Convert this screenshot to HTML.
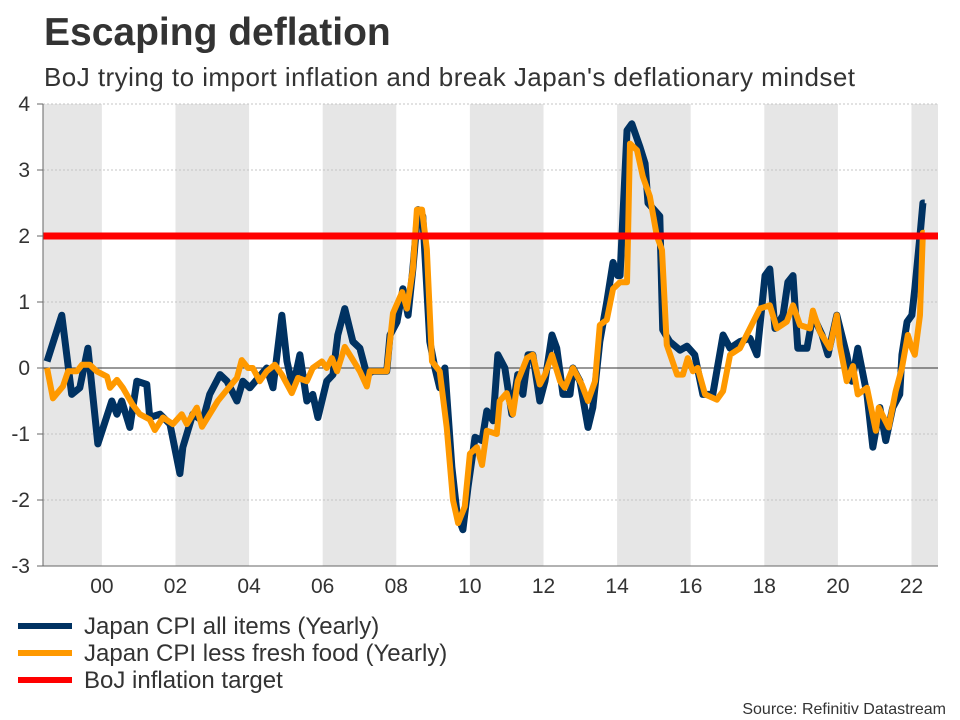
<!DOCTYPE html>
<html><head><meta charset="utf-8"><style>
body{margin:0;width:960px;height:720px;background:#fff;font-family:"Liberation Sans",sans-serif;overflow:hidden}
svg{position:absolute;left:0;top:0}
</style></head><body>
<svg width="960" height="720" id="chart">
<text x="44" y="45" font-size="39" font-weight="bold" fill="#333">Escaping deflation</text>
<text x="44" y="86" font-size="26" fill="#333" textLength="811">BoJ trying to import inflation and break Japan's deflationary mindset</text>
<g id="bands"></g><g id="grid"></g><g id="series"></g><g id="axes"></g>
<g>
<line x1="18" y1="626" x2="72" y2="626" stroke="#003262" stroke-width="6"/>
<text x="84" y="634" font-size="24" fill="#333">Japan CPI all items (Yearly)</text>
<line x1="18" y1="653" x2="72" y2="653" stroke="#ff9900" stroke-width="6"/>
<text x="84" y="661" font-size="24" fill="#333">Japan CPI less fresh food (Yearly)</text>
<line x1="18" y1="680" x2="72" y2="680" stroke="#ff0000" stroke-width="6"/>
<text x="84" y="688" font-size="24" fill="#333">BoJ inflation target</text>
</g>
<text x="946" y="714" font-size="16" fill="#333" text-anchor="end">Source: Refinitiv Datastream</text>
</svg>
<script>
const allDates=[1998.51,1998.91,1999.18,1999.40,1999.62,1999.89,2000.27,2000.41,2000.54,2000.76,2000.95,2001.22,2001.30,2001.58,2001.85,2002.12,2002.20,2002.47,2002.74,2002.93,2003.21,2003.40,2003.67,2003.83,2004.02,2004.48,2004.65,2004.89,2005.03,2005.19,2005.38,2005.57,2005.73,2005.87,2006.11,2006.28,2006.41,2006.60,2006.82,2007.01,2007.20,2007.36,2007.74,2007.83,2008.02,2008.18,2008.32,2008.45,2008.59,2008.72,2008.91,2009.05,2009.18,2009.32,2009.51,2009.65,2009.81,2009.95,2010.14,2010.33,2010.46,2010.63,2010.76,2010.95,2011.14,2011.30,2011.44,2011.58,2011.71,2011.90,2012.04,2012.23,2012.36,2012.53,2012.72,2012.80,2012.99,2013.21,2013.34,2013.53,2013.72,2013.89,2014.02,2014.08,2014.27,2014.40,2014.62,2014.76,2014.84,2015.16,2015.24,2015.43,2015.71,2015.90,2016.11,2016.33,2016.60,2016.88,2017.07,2017.34,2017.61,2017.80,2018.02,2018.15,2018.29,2018.51,2018.64,2018.78,2018.91,2019.16,2019.32,2019.57,2019.73,2019.97,2020.24,2020.38,2020.54,2020.79,2020.95,2021.14,2021.30,2021.49,2021.68,2021.74,2021.88,2022.01,2022.09,2022.23,2022.31,2022.36];
const allValues=[0.1,0.8,-0.4,-0.3,0.3,-1.15,-0.5,-0.7,-0.5,-0.9,-0.2,-0.25,-0.75,-0.7,-0.85,-1.6,-1.2,-0.7,-0.8,-0.4,-0.1,-0.2,-0.5,-0.2,-0.3,0,-0.3,0.8,0.1,-0.3,0.2,-0.5,-0.4,-0.75,-0.2,-0.1,0.5,0.9,0.4,0.3,-0.1,-0.05,-0.05,0.5,0.7,1.2,0.8,1.5,2.4,2.3,0.4,0,-0.3,0,-1.5,-2.2,-2.45,-1.8,-1.05,-1.1,-0.65,-0.8,0.2,0,-0.7,-0.1,-0.4,0.2,0.2,-0.5,-0.2,0.5,0.3,-0.4,-0.4,0,-0.2,-0.9,-0.6,0.4,1.0,1.6,1.4,1.4,3.6,3.7,3.35,3.1,2.5,2.3,0.58,0.4,0.27,0.33,0.2,-0.4,-0.4,0.5,0.3,0.4,0.45,0.2,1.4,1.5,0.6,0.8,1.3,1.4,0.3,0.3,0.8,0.5,0.2,0.8,0.2,-0.2,0.3,-0.4,-1.2,-0.6,-1.1,-0.6,-0.4,0.2,0.7,0.8,1.2,2.0,2.5,2.5];
const coreDates=[1998.51,1998.67,1998.94,1999.08,1999.32,1999.46,1999.67,1999.86,2000.14,2000.22,2000.41,2000.57,2000.84,2001.03,2001.30,2001.44,2001.66,2001.93,2002.17,2002.31,2002.58,2002.72,2002.93,2003.15,2003.40,2003.67,2003.80,2003.97,2004.10,2004.29,2004.48,2004.70,2004.89,2005.16,2005.33,2005.57,2005.73,2005.98,2006.11,2006.25,2006.39,2006.60,2006.79,2007.01,2007.20,2007.28,2007.74,2007.91,2008.16,2008.29,2008.45,2008.56,2008.70,2008.83,2008.97,2009.18,2009.37,2009.54,2009.68,2009.86,2010.00,2010.19,2010.33,2010.46,2010.73,2010.81,2011.00,2011.17,2011.30,2011.55,2011.71,2011.90,2012.04,2012.23,2012.45,2012.58,2012.80,2013.04,2013.21,2013.40,2013.53,2013.72,2013.89,2014.08,2014.27,2014.35,2014.54,2014.70,2014.89,2015.08,2015.22,2015.35,2015.63,2015.79,2015.92,2016.06,2016.19,2016.39,2016.71,2016.88,2017.07,2017.34,2017.61,2017.88,2018.15,2018.34,2018.61,2018.78,2018.97,2019.24,2019.32,2019.51,2019.78,2019.97,2020.05,2020.24,2020.41,2020.54,2020.79,2021.03,2021.11,2021.38,2021.57,2021.74,2021.90,2022.01,2022.09,2022.23,2022.31,2022.36];
const coreValues=[0,-0.46,-0.28,-0.05,-0.05,0.05,0.05,-0.05,-0.13,-0.3,-0.18,-0.3,-0.56,-0.7,-0.78,-0.94,-0.75,-0.85,-0.7,-0.85,-0.6,-0.89,-0.7,-0.5,-0.33,-0.15,0.12,0,0,-0.2,-0.05,0.05,-0.1,-0.38,-0.15,-0.2,0,0.1,0,0.15,-0.05,0.32,0.15,-0.05,-0.28,-0.05,-0.05,0.83,1.15,0.9,1.5,2.4,2.4,1.8,0.1,-0.05,-0.9,-2.0,-2.35,-2.1,-1.3,-1.2,-1.47,-0.95,-1.0,-0.5,-0.38,-0.7,-0.2,0.15,0.2,-0.25,-0.1,0.2,-0.2,-0.3,0,-0.25,-0.5,-0.2,0.65,0.73,1.2,1.3,1.3,3.4,3.3,2.9,2.6,2.0,1.79,0.35,-0.1,-0.1,0.15,-0.05,0,-0.4,-0.48,-0.35,0.2,0.3,0.6,0.9,0.95,0.6,0.7,0.95,0.65,0.6,0.87,0.55,0.3,0.8,0.35,-0.2,0.03,-0.4,-0.3,-0.95,-0.6,-0.9,-0.35,0,0.5,0.3,0.2,0.8,2.05,2.05];
const targetValue=[2];
const yTicks=[4,3,2,1,0,-1,-2,-3];
const xTickYears=[2000,2002,2004,2006,2008,2010,2012,2014,2016,2018,2020,2022];
const xTickLabels=["00","02","04","06","08","10","12","14","16","18","20","22"];

const X0=43,X1=938,Y0=104,Y1=566,xMin=1998.4,xMax=2022.72,yMin=-3,yMax=4;
const xs=v=>X0+(v-xMin)/(xMax-xMin)*(X1-X0);
const ys=v=>Y1-(v-yMin)/(yMax-yMin)*(Y1-Y0);
const NS="http://www.w3.org/2000/svg";
function mk(tag,attrs,parent){const e=document.createElementNS(NS,tag);for(const k in attrs)e.setAttribute(k,attrs[k]);document.getElementById(parent).appendChild(e);return e;}
for(let y=1998;y<2024;y+=4){
  const a=Math.max(y,xMin),b=Math.min(y+2,xMax);
  if(b<=a)continue;
  const r=mk('rect',{x:xs(a),y:Y0,width:xs(b)-xs(a),height:Y1-Y0,fill:'#e6e6e6'},'bands');
  
  
}
yTicks.forEach(t=>{
  const l=mk('line',{x1:X0,x2:X1,y1:ys(t),y2:ys(t),stroke:t===0?'#333':'#c4c4c4','stroke-width':1,'stroke-dasharray':t===0?'':'2,2'},'grid');
  
  
  const tk=mk('line',{x1:X0-6,x2:X0,y1:ys(t),y2:ys(t),stroke:'#666'},'axes');
  
  
  const tx=mk('text',{x:30,y:ys(t)+7,'font-size':21,fill:'#333','text-anchor':'end'},'axes');
  tx.textContent=t;
  
  
});
const ax=mk('line',{x1:X0,x2:X0,y1:Y0,y2:Y1,stroke:'#666'},'axes');


const bx=mk('line',{x1:X0,x2:X1,y1:Y1,y2:Y1,stroke:'#666'},'axes');


xTickYears.forEach((yr,i)=>{
  const t=mk('text',{x:xs(yr),y:Y1+27,'font-size':21,fill:'#333','text-anchor':'middle'},'axes');
  t.textContent=xTickLabels[i];
  
  
});
function line(d,v,color,w,name){
  const p=mk('polyline',{points:d.map((x,i)=>xs(x)+','+ys(v[i])).join(' '),fill:'none',stroke:color,'stroke-width':w,'stroke-linejoin':'round'},'series');
  
  
}
line(allDates,allValues,'#003262',7,'series-cpi-all-items');
line(coreDates,coreValues,'#ff9900',6,'series-cpi-less-fresh-food');
const tl=mk('line',{x1:X0,x2:X1,y1:ys(targetValue[0]),y2:ys(targetValue[0]),stroke:'#ff0000','stroke-width':7},'series');


</script>
</body></html>
